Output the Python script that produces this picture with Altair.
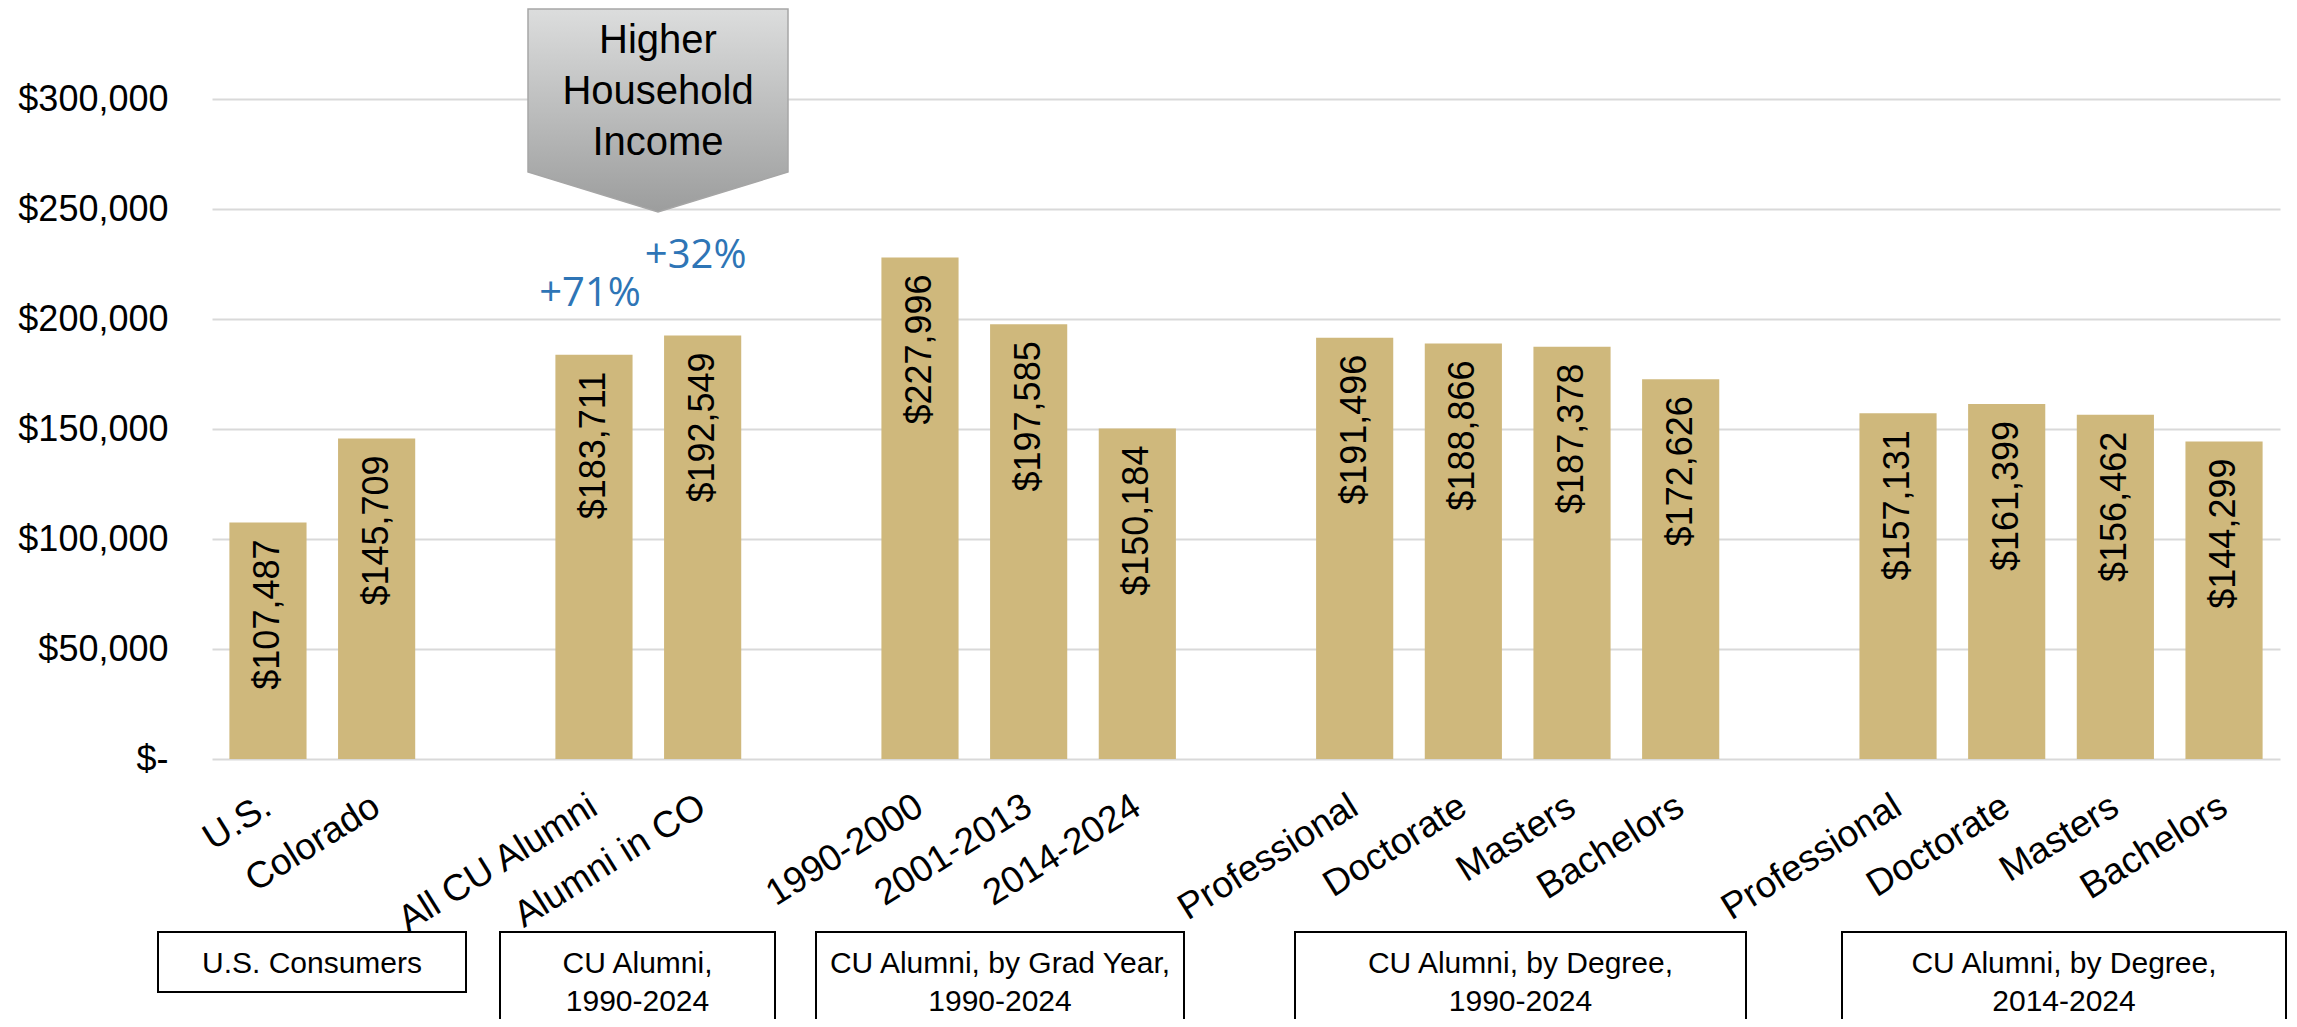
import altair as alt
import pandas as pd

# ---------------- data ----------------
group_names = [
    "U.S. Consumers",
    "CU Alumni,\n1990-2024",
    "CU Alumni, by Grad Year,\n1990-2024",
    "CU Alumni, by Degree,\n1990-2024",
    "CU Alumni, by Degree,\n2014-2024",
]
group_categories = [
    ["U.S.", "Colorado"],
    ["All CU Alumni", "Alumni in CO"],
    ["1990-2000", "2001-2013", "2014-2024"],
    ["Professional", "Doctorate", "Masters", "Bachelors"],
    ["Professional", "Doctorate", "Masters", "Bachelors"],
]
group_values = [
    [107487, 145709],
    [183711, 192549],
    [227996, 197585, 150184],
    [191496, 188866, 187378, 172626],
    [157131, 161399, 156462, 144299],
]
y_ticks = [0, 50000, 100000, 150000, 200000, 250000, 300000]
annotation_title = "Higher\nHousehold\nIncome"
# growth comparisons: (compared category, baseline category)
growth_pairs = [("All CU Alumni", "U.S."), ("Alumni in CO", "Colorado")]

# ---------------- build tables ----------------
keys, rows = [], []
for gi, (cats, vals) in enumerate(zip(group_categories, group_values)):
    if gi > 0:
        keys.append(f"#gap{gi}")
    for c, v in zip(cats, vals):
        k = f"{c}#{gi}"
        keys.append(k)
        rows.append({"key": k, "category": c, "value": v,
                     "label": "${:,}".format(v)})
df = pd.DataFrame(rows)
lookup = {r["category"]: r for r in rows if r["key"].endswith("#0") or r["key"].endswith("#1")}
pct_rows = []
for cmp_cat, base_cat in growth_pairs:
    a, b = lookup[cmp_cat], lookup[base_cat]
    pct_rows.append({"key": a["key"], "value": a["value"],
                     "pct": "+{:.0f}%".format((a["value"] / b["value"] - 1) * 100)})
pct_df = pd.DataFrame(pct_rows)
dummy = pd.DataFrame({"d": [0]})

# ---------------- layout / style ----------------
FONT = "Liberation Sans"
W, H = 2068, 660
PAD = {"left": 204, "top": 91, "right": 9, "bottom": 260}
GOLD = "#CFB87C"
BLUE = "#2e75b6"

x_enc = alt.X(
    "key:N",
    scale=alt.Scale(domain=keys, paddingInner=0.29, paddingOuter=0.16),
    axis=alt.Axis(
        labelExpr="split(datum.label, '#')[0]",
        labelAngle=-32, labelAlign="right", labelBaseline="middle",
        labelFontSize=37, labelFont=FONT, labelColor="black",
        labelPadding=44, labelLimit=600, labelOverlap=False,
        ticks=False, tickSize=0, domain=False, grid=False, title=None,
    ),
)
y_enc = alt.Y(
    "value:Q",
    scale=alt.Scale(domain=[0, 300000], nice=False),
    axis=alt.Axis(
        values=y_ticks,
        labelExpr="datum.value == 0 ? '$-\u00a0\u00a0' : '$' + format(datum.value, ',')",
        labelFontSize=36, labelFont=FONT, labelColor="black",
        labelPadding=44, ticks=False, tickSize=0, domain=False,
        gridColor="#d9d9d9", gridWidth=2, title=None,
    ),
)

bars = alt.Chart(df).mark_bar(color=GOLD).encode(x=x_enc, y=y_enc)

value_labels = alt.Chart(df).mark_text(
    angle=270, align="right", baseline="middle", dx=-17,
    fontSize=36, font=FONT, color="black",
).encode(x=x_enc, y=y_enc, text="label:N")

pct_layers = []
for i, (ddx, ddy) in enumerate([(-4, -49), (-7, -67)]):
    pct_layers.append(
        alt.Chart(pct_df.iloc[[i]]).mark_text(
            align="center", baseline="alphabetic", dx=ddx, dy=ddy,
            fontSize=40, font="Open Sans", color=BLUE,
        ).encode(x=x_enc, y=y_enc, text="pct:N")
    )

gradient = {
    "gradient": "linear", "x1": 0, "y1": 0, "x2": 0, "y2": 1,
    "stops": [{"offset": 0, "color": "#dcdddd"},
              {"offset": 1, "color": "#9c9d9d"}],
}
arrow = alt.Chart(dummy).mark_point(
    shape="M-1,-0.781 L1,-0.781 L1,0.473 L0,0.781 L-1,0.473 Z",
    size=67600, filled=True, fill=gradient, stroke="#a6a6a6",
    strokeWidth=1.5, opacity=1, fillOpacity=1,
).encode(x=alt.value(446), y=alt.value(11.5))

arrow_text = alt.Chart(dummy).mark_text(
    lineBreak="\n", lineHeight=51, fontSize=40, font=FONT, color="black",
    align="center", baseline="alphabetic",
).encode(x=alt.value(446), y=alt.value(53 - 99), text=alt.value(annotation_title))

# group boxes (page pixel spans converted to plot coords)
box_spans = [(158, 466), (500, 775), (816, 1184), (1295, 1746), (1842, 2286)]
box_layers = []
for name, (l, r) in zip(group_names, box_spans):
    two = "\n" in name
    top, bottom = 932, (1040 if two else 992)
    box_layers.append(
        alt.Chart(dummy).mark_rect(fill="white", stroke="black", strokeWidth=2)
        .encode(x=alt.value(l - 212), x2=alt.value(r - 212),
                y=alt.value(top - 99), y2=alt.value(bottom - 99))
    )
    box_layers.append(
        alt.Chart(dummy).mark_text(
            lineBreak="\n", lineHeight=38, fontSize=30, font=FONT,
            color="black", align="center", baseline="alphabetic",
        ).encode(x=alt.value((l + r) / 2 - 212),
                 y=alt.value(973 - 99),
                 text=alt.value(name))
    )

chart = alt.layer(
    bars, value_labels, *pct_layers, arrow, arrow_text, *box_layers
).properties(
    width=W, height=H, padding=PAD,
    autosize=alt.AutoSizeParams(type="none"),
    background="white",
).configure_view(strokeWidth=0)

chart.save("out.html", embed_options={"renderer": "svg", "actions": False})
